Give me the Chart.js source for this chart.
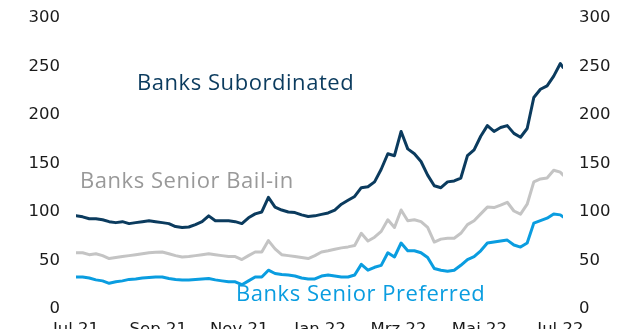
<!DOCTYPE html>
<html>
<head>
<meta charset="utf-8">
<script src="https://cdn.jsdelivr.net/npm/chart.js@4/dist/chart.umd.min.js"></script>
<style>
  html, body { margin: 0; padding: 0; background: #fff; }
  #wrap { width: 617px; height: 329px; overflow: hidden; }
</style>
</head>
<body>
<div id="wrap"><canvas id="spreads" width="617" height="329"></canvas></div>
<script>
// Tage seit 01.07.2021 (alle 5 Tage ein Punkt)
const days = [0, 5, 10, 15, 20, 25, 30, 35, 40, 45, 50, 55, 60, 65, 70, 75, 80, 85, 90, 95,
    100, 105, 110, 115, 120, 125, 130, 135, 140, 145, 150, 155, 160, 165, 170, 175, 180, 185, 190, 195,
    200, 205, 210, 215, 220, 225, 230, 235, 240, 245, 250, 255, 260, 265, 270, 275, 280, 285, 290, 295,
    300, 305, 310, 315, 320, 325, 330, 335, 340, 345, 350, 355, 360, 365, 367];

const subordinated = [96, 95, 93, 93, 92, 90, 89, 90, 88, 89, 90, 91, 90, 89, 88, 85, 84, 84.5, 87, 90,
    96, 91, 91, 91, 90, 88, 94, 98, 100, 115, 105, 102, 100, 99.4, 97, 95.3, 96, 97.5, 99, 102,
    108, 112, 116, 125, 126, 131, 144, 160, 158, 183, 165, 160, 152, 138, 127, 125, 131, 132, 135, 158,
    164, 178, 189, 183, 187, 189, 181, 177, 186, 218, 226.5, 230, 240, 253, 249];

const seniorBailIn = [58, 58, 56, 57, 55, 52, 53, 54, 55, 56, 57, 58, 58.5, 58.7, 57, 55, 53.6, 54, 55, 56,
    57, 56, 55, 54, 54, 51, 55, 58.7, 58.7, 70.5, 62, 56, 55, 54, 53, 52, 55, 58.7, 60, 61.5,
    63, 64, 65.4, 78, 70, 74, 80, 92, 84, 102, 91, 92, 90, 84, 69, 72, 73, 73, 78, 87,
    91, 98, 105, 104.5, 107, 110, 101, 97.7, 108, 131, 134, 135, 143, 141, 138];

const seniorPreferred = [33, 33, 32, 30, 29, 26.5, 28, 29, 30.5, 31, 32, 32.5, 33, 33, 31.5, 30.5, 30, 30, 30.5, 31,
    31.5, 30, 29, 28, 28, 25, 29, 33, 33, 40, 36.6, 35.5, 35, 34, 32, 31, 31, 34, 35, 34,
    33, 33, 35, 46, 40, 43, 45, 58, 53.6, 68, 60, 60, 58, 53, 41.7, 40, 39, 40, 45, 51,
    54, 60, 68, 69, 70, 71, 66, 63.8, 68, 88.5, 91, 93.6, 98, 97, 95];

// Achsenbeschriftung
const monthTicks = [0, 62, 123, 184, 243, 304, 365];
const monthLabels = ['Jul 21', 'Sep 21', 'Nov 21', 'Jan 22', 'Mrz 22', 'Mai 22', 'Jul 22'];
const yTicks = [0, 50, 100, 150, 200, 250, 300];

const NAVY = '#0b3b5e', GREY = '#c4c4c4', BLUE = '#0a9de0';

function toPoints(vals) { return vals.map((v, i) => ({ x: days[i], y: v })); }

// Serienbeschriftungen direkt im Chart
const seriesLabels = {
    id: 'seriesLabels',
    afterDatasetsDraw(chart) {
        const c = chart.ctx;
        c.save();
        c.font = '22px "Open Sans"';
        c.letterSpacing = '0.55px';
        c.textBaseline = 'alphabetic';
        c.textAlign = 'left';
        c.fillStyle = '#0b3b5e';
        c.fillText('Banks Subordinated', 137, 90);
        c.fillStyle = '#999999';
        c.fillText('Banks Senior Bail-in', 80, 188);
        c.fillStyle = '#0a9de0';
        c.fillText('Banks Senior Preferred', 236, 301);
        c.restore();
    }
};

const tickFont = { family: 'DejaVu Sans', size: 16.5 };

function yAxis(pos, w) {
    return {
        position: pos,
        min: 0, max: 300,
        grid: { display: false },
        border: { display: false },
        afterBuildTicks: ax => { ax.ticks = yTicks.map(v => ({ value: v })); },
        afterFit: ax => { ax.width = w; },
        ticks: { color: '#1a1a1a', font: tickFont, padding: 8 }
    };
}

new Chart(document.getElementById('spreads'), {
    type: 'line',
    data: {
        datasets: [
            { label: 'Banks Subordinated', data: toPoints(subordinated), borderColor: NAVY, borderWidth: 3 },
            { label: 'Banks Senior Bail-in', data: toPoints(seniorBailIn), borderColor: GREY, borderWidth: 3 },
            { label: 'Banks Senior Preferred', data: toPoints(seniorPreferred), borderColor: BLUE, borderWidth: 3 }
        ]
    },
    options: {
        responsive: false,
        animation: false,
        devicePixelRatio: 1,
        layout: { autoPadding: false, padding: { top: 3.6, left: 0, right: 0, bottom: 0 } },
        elements: { point: { radius: 0 }, line: { tension: 0, borderJoinStyle: 'round', borderCapStyle: 'round' } },
        plugins: { legend: { display: false }, tooltip: { enabled: false } },
        scales: {
            x: {
                type: 'linear',
                min: 0, max: 367,
                grid: { display: false },
                border: { display: false },
                afterBuildTicks: ax => { ax.ticks = monthTicks.map(v => ({ value: v })); },
                afterFit: ax => { ax.height = 20; },
                ticks: {
                    color: '#1a1a1a', font: tickFont, padding: 3,
                    autoSkip: false, maxRotation: 0,
                    callback: v => monthLabels[monthTicks.indexOf(v)]
                }
            },
            y: yAxis('left', 76),
            y2: yAxis('right', 54)
        }
    },
    plugins: [seriesLabels]
});
</script>
</body>
</html>
